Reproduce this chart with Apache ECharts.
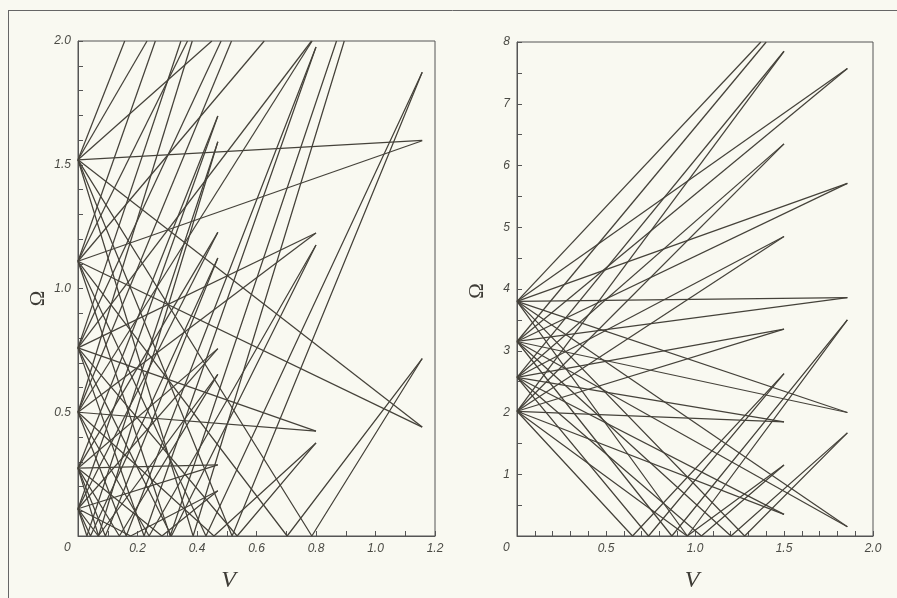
<!DOCTYPE html>
<html><head><meta charset="utf-8">
<script src="https://cdn.jsdelivr.net/npm/echarts@6/dist/echarts.min.js"></script>
<style>html,body{margin:0;padding:0;background:#f9f9f1}#c{width:897px;height:598px}</style>
</head><body><div id="c"></div>
<script>
// ---- tick labels ----
const leftXTickLabels  = ['0','0.2','0.4','0.6','0.8','1.0','1.2'];
const leftYTickLabels  = ['0','0.5','1.0','1.5','2.0'];
const rightXTickLabels = ['0','0.5','1.0','1.5','2.0'];
const rightYTickLabels = ['0','1','2','3','4','5','6','7','8'];

// ---- left panel lines [V, Omega] ----
const leftFan1Upper = [
  [[0,1.52],[0.157,2.0]], [[0,1.52],[0.232,2.0]], [[0,1.52],[0.45,2.0]],
  [[0,1.52],[1.157,1.598]], [[0,1.52],[1.157,0.44]],
  [[0,1.52],[0.786,0],[1.157,0.717]], [[0,1.52],[0.518,0],[1.157,1.874]],
  [[0,1.52],[0.387,0],[0.895,2.0]]
];
const leftFan1Lower = [
  [[0,1.11],[0.26,2.0]], [[0,1.11],[0.368,2.0]], [[0,1.11],[0.626,2.0]],
  [[0,1.11],[1.157,1.597]], [[0,1.11],[1.157,0.44]],
  [[0,1.11],[0.703,0],[1.157,0.717]], [[0,1.11],[0.43,0],[1.157,1.874]],
  [[0,1.11],[0.31,0],[0.869,2.0]]
];
const leftFan2Lower = [
  [[0,0.5],[0.384,2.0]], [[0,0.5],[0.516,2.0]], [[0,0.5],[0.787,2.0]],
  [[0,0.5],[0.8,1.224]], [[0,0.5],[0.8,0.424]],
  [[0,0.5],[0.457,0],[0.8,0.376]], [[0,0.5],[0.239,0],[0.8,1.176]],
  [[0,0.5],[0.162,0],[0.8,1.976]]
];
const leftFan2Upper = [
  [[0,0.76],[0.346,2.0]], [[0,0.76],[0.481,2.0]], [[0,0.76],[0.785,2.0]],
  [[0,0.76],[0.8,1.224]], [[0,0.76],[0.8,0.424]],
  [[0,0.76],[0.535,0],[0.8,0.376]], [[0,0.76],[0.314,0],[0.8,1.176]],
  [[0,0.76],[0.222,0],[0.8,1.976]]
];
const leftFan3Upper = [
  [[0,0.274],[0.47,1.697]], [[0,0.274],[0.47,1.227]], [[0,0.274],[0.47,0.757]],
  [[0,0.274],[0.47,0.287]], [[0,0.274],[0.282,0],[0.47,0.183]],
  [[0,0.274],[0.139,0],[0.47,0.653]], [[0,0.274],[0.092,0],[0.47,1.123]],
  [[0,0.274],[0.069,0],[0.47,1.593]]
];
const leftFan3Lower = [
  [[0,0.11],[0.47,1.697]], [[0,0.11],[0.47,1.227]], [[0,0.11],[0.47,0.757]],
  [[0,0.11],[0.47,0.287]], [[0,0.11],[0.177,0],[0.47,0.183]],
  [[0,0.11],[0.068,0],[0.47,0.653]], [[0,0.11],[0.042,0],[0.47,1.123]],
  [[0,0.11],[0.030,0],[0.47,1.593]]
];

// ---- right panel lines ----
const rightFanBUpper = [
  [[0,3.8],[1.37,8]], [[0,3.8],[1.856,7.57]], [[0,3.8],[1.856,5.71]],
  [[0,3.8],[1.856,3.86]], [[0,3.8],[1.856,2.0]], [[0,3.8],[1.856,0.15]],
  [[0,3.8],[1.279,0],[1.856,1.67]], [[0,3.8],[0.957,0],[1.856,3.5]]
];
const rightFanBLower = [
  [[0,3.15],[1.40,8]], [[0,3.15],[1.856,7.57]], [[0,3.15],[1.856,5.71]],
  [[0,3.15],[1.856,3.86]], [[0,3.15],[1.856,2.0]], [[0,3.15],[1.856,0.15]],
  [[0,3.15],[1.202,0],[1.856,1.67]], [[0,3.15],[0.870,0],[1.856,3.5]]
];
const rightFanALower = [
  [[0,2.02],[1.5,7.85]], [[0,2.02],[1.5,6.35]], [[0,2.02],[1.5,4.85]],
  [[0,2.02],[1.5,3.35]], [[0,2.02],[1.5,1.85]], [[0,2.02],[1.5,0.35]],
  [[0,2.02],[0.956,0],[1.5,1.15]], [[0,2.02],[0.649,0],[1.5,2.63]]
];
const rightFanAUpper = [
  [[0,2.57],[1.5,7.85]], [[0,2.57],[1.5,6.35]], [[0,2.57],[1.5,4.85]],
  [[0,2.57],[1.5,3.35]], [[0,2.57],[1.5,1.85]], [[0,2.57],[1.5,0.35]],
  [[0,2.57],[1.036,0],[1.5,1.15]], [[0,2.57],[0.739,0],[1.5,2.63]]
];

const leftLines = [].concat(leftFan1Upper, leftFan1Lower, leftFan2Lower, leftFan2Upper, leftFan3Upper, leftFan3Lower);
const rightLines = [].concat(rightFanBUpper, rightFanBLower, rightFanALower, rightFanAUpper);

const INK = '#45423a';
const chart = echarts.init(document.getElementById('c'), null, {renderer:'canvas'});
const labelStyle = {color:'#4a4a44', fontSize:12, fontStyle:'italic', fontFamily:'Liberation Sans'};
function lab(arr, step){ return v => { const i = Math.round(v/step); return i===0 ? '' : (arr[i]||''); }; }
function mkX(idx, max, interval, split, labels, shift){
  return {type:'value', gridIndex:idx, min:0, max:max, interval:interval,
    axisLine:{show:true, lineStyle:{color:'#555', width:1}},
    axisTick:{show:true, inside:true, length:5, lineStyle:{color:'#555'}},
    minorTick:{show:true, splitNumber:split, length:5, lineStyle:{color:'#555'}},
    splitLine:{show:false},
    axisLabel:{...labelStyle, margin:7, formatter:lab(labels, interval)},
    name:'V', nameLocation:'middle', nameGap:33,
    nameTextStyle:{fontFamily:'Liberation Serif', fontStyle:'italic', fontSize:24, color:'#3e3c36', padding:[0,shift,0,0]}};
}
function mkY(idx, max, interval, split, labels, shift){
  return {type:'value', gridIndex:idx, min:0, max:max, interval:interval,
    axisLine:{show:true, lineStyle:{color:'#555', width:1}},
    axisTick:{show:true, inside:true, length:5, lineStyle:{color:'#555'}},
    minorTick:{show:true, splitNumber:split, length:5, lineStyle:{color:'#555'}},
    splitLine:{show:false},
    axisLabel:{...labelStyle, margin:7, formatter:lab(labels, interval)},
    name:'Ω', nameLocation:'middle', nameGap:29,
    nameTextStyle:{fontFamily:'Liberation Serif', fontSize:21, color:'#3e3c36', padding:[0,shift,0,0]}};
}
const series = [];
leftLines.forEach(l => series.push({type:'line', xAxisIndex:0, yAxisIndex:0, data:l, symbol:'none', silent:true, animation:false, lineStyle:{color:INK, width:1.25}}));
rightLines.forEach(l => series.push({type:'line', xAxisIndex:1, yAxisIndex:1, data:l, symbol:'none', silent:true, animation:false, lineStyle:{color:INK, width:1.25}}));

chart.setOption({
  backgroundColor:'#f9f9f1',
  animation:false,
  grid:[
    {left:78, top:41, width:357, height:497, show:true, borderColor:'#555', borderWidth:1},
    {left:517, top:42, width:356, height:495, show:true, borderColor:'#555', borderWidth:1}
  ],
  xAxis:[mkX(0,1.2,0.2,2,leftXTickLabels,56), mkX(1,2.0,0.5,5,rightXTickLabels,6)],
  yAxis:[mkY(0,2.0,0.5,5,leftYTickLabels,20), mkY(1,8,1,2,rightYTickLabels,4)],
  series:series,
  graphic:[
    {type:'line', shape:{x1:8,y1:10.5,x2:897,y2:10.5}, style:{stroke:'#666', lineWidth:1}},
    {type:'line', shape:{x1:8.5,y1:10,x2:8.5,y2:598}, style:{stroke:'#666', lineWidth:1}},
    {type:'text', left:64, top:542, style:{text:leftXTickLabels[0], fill:'#4a4a44', font:'italic 12px Liberation Sans'}},
    {type:'text', left:503, top:542, style:{text:rightXTickLabels[0], fill:'#4a4a44', font:'italic 12px Liberation Sans'}}
  ]
});
</script></body></html>
